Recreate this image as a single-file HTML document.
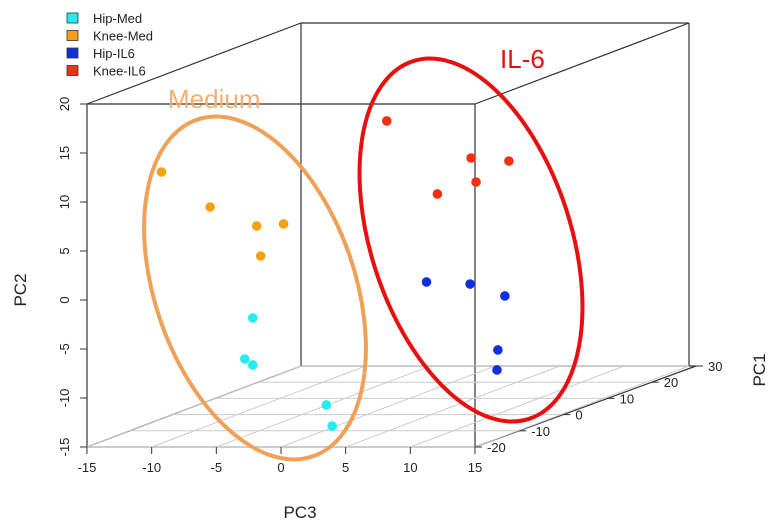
<!DOCTYPE html>
<html><head><meta charset="utf-8"><style>
html,body{margin:0;padding:0;background:#fff;}
svg{display:block;font-family:"Liberation Sans",sans-serif;}
</style></head><body>
<svg id="chart" width="775" height="524" viewBox="0 0 775 524">
<g id="box" stroke="#333" stroke-width="1.2" fill="none"></g>
<g id="grid" stroke="#ccc" stroke-width="1" fill="none"></g>
<g id="axes"></g>
<g id="pts"></g>
<ellipse cx="255" cy="288" rx="100" ry="178" transform="rotate(-19 255 288)" fill="none" stroke="#f0a058" stroke-width="4"/>
<ellipse cx="471" cy="240" rx="100" ry="188" transform="rotate(-18 471 240)" fill="none" stroke="#e61010" stroke-width="4"/>
<text x="168" y="108" font-size="26" fill="#f5b070">Medium</text>
<text x="500" y="68" font-size="26" fill="#e61010">IL-6</text>
<text transform="translate(26 290) rotate(-90)" text-anchor="middle" font-size="17" fill="#222">PC2</text>
<text x="300" y="518" text-anchor="middle" font-size="17" fill="#222">PC3</text>
<text transform="translate(765 370) rotate(-90)" text-anchor="middle" font-size="17" fill="#222">PC1</text>
<g id="legend"></g>
</svg>
<script>
const groups = ["Hip-Med","Knee-Med","Hip-IL6","Knee-IL6"];
const colors = ["#22eeee","#f5a010","#1030e0","#f03010"];
const hipMedX = [-2.18,-2.80,-2.18,3.50,3.96];
const hipMedY = [-1.84,-6.02,-6.63,-10.71,-12.86];
const kneeMedX = [-9.24,-5.48,-1.88,0.20,-1.57];
const kneeMedY = [13.06,9.49,7.55,7.76,4.49];
const hipIL6X = [11.25,14.62,17.31,16.77,16.70];
const hipIL6Y = [1.84,1.63,0.41,-5.10,-7.14];
const kneeIL6X = [8.18,14.70,17.62,15.08,12.09];
const kneeIL6Y = [18.27,14.49,14.18,12.04,10.82];
const xTicks = [-15,-10,-5,0,5,10,15];
const yTicks = [-15,-10,-5,0,5,10,15,20];
const zTicks = [-20,-10,0,10,20,30];

const NS="http://www.w3.org/2000/svg";
const L=87,R=475,T=104,B=447,DX=214,DY=-81;
const sx=v=>L+(v+15)/30*(R-L);
const sy=v=>B-(v+15)/35*(B-T);
const zf=v=>(v+20)/50;
function mk(parent,tag,attrs){const e=document.createElementNS(NS,tag);for(const k in attrs)e.setAttribute(k,attrs[k]);document.getElementById(parent).appendChild(e);return e;}
const lines=[[L,T,R,T],[L,B,R,B],[L,T,L,B],[R,T,R,B],
[L+DX,T+DY,R+DX,T+DY],[L+DX,T+DY,L+DX,B+DY],[R+DX,T+DY,R+DX,B+DY],[L+DX,B+DY,R+DX+7,B+DY],
[L,T,L+DX,T+DY],[R,T,R+DX,T+DY],[L,B,L+DX,B+DY],[R,B,R+DX+7,B+DY]];
lines.forEach(l=>{const e=mk('box','line',{x1:l[0],y1:l[1],x2:l[2],y2:l[3]});

});
zTicks.forEach(z=>{const f=zf(z);const e=mk('grid','line',{x1:L+DX*f,y1:B+DY*f,x2:R+DX*f,y2:B+DY*f});

});
xTicks.forEach(x=>{const e=mk('grid','line',{x1:sx(x),y1:B,x2:sx(x)+DX,y2:B+DY});

});
xTicks.forEach(x=>{const t=mk('axes','line',{x1:sx(x),y1:B,x2:sx(x),y2:B+7,stroke:'#333'});


const e=mk('axes','text',{x:sx(x),y:B+25,'text-anchor':'middle','font-size':13,fill:'#222'});e.textContent=x;

});
yTicks.forEach(y=>{const t=mk('axes','line',{x1:L-7,y1:sy(y),x2:L,y2:sy(y),stroke:'#333'});


const e=mk('axes','text',{transform:`translate(${L-18} ${sy(y)}) rotate(-90)`,'text-anchor':'middle','font-size':13,fill:'#222'});e.textContent=y;

});
zTicks.forEach(z=>{const f=zf(z);const px=R+(DX+7)*f,py=B+DY*f;
const t=mk('axes','line',{x1:px,y1:py,x2:px+7,y2:py,stroke:'#333'});


const e=mk('axes','text',{x:px+12,y:py+5,'font-size':13,fill:'#222'});e.textContent=z;

});
const series=[[hipMedX,hipMedY],[kneeMedX,kneeMedY],[hipIL6X,hipIL6Y],[kneeIL6X,kneeIL6Y]];
series.forEach((s,i)=>s[0].forEach((x,j)=>{const c=mk('pts','circle',{cx:sx(x),cy:sy(s[1][j]),r:4.8,fill:colors[i]});

}));
groups.forEach((g,i)=>{const y=18+i*17.5;
const r=mk('legend','rect',{x:67,y:y-5,width:11,height:10,fill:colors[i],stroke:'#333','stroke-width':0.8});


const t=mk('legend','text',{x:93,y:y+5,'font-size':13,fill:'#222'});t.textContent=g;

});
</script>
</body></html>
